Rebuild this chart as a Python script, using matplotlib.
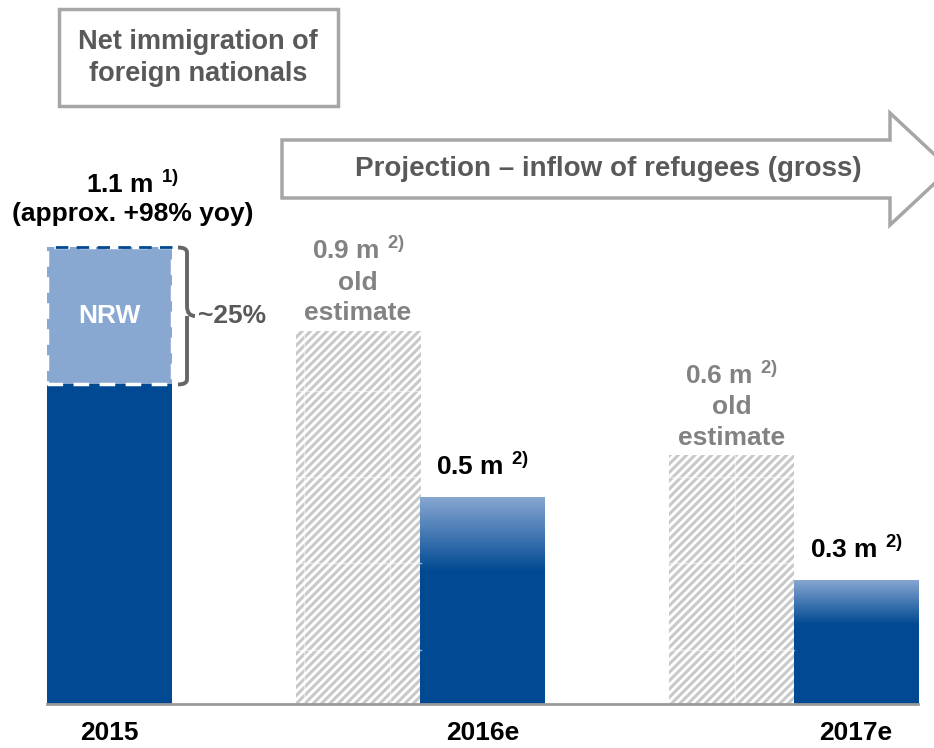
import numpy as np
import matplotlib.pyplot as plt
from matplotlib.patches import Rectangle, Polygon, PathPatch
from matplotlib.path import Path
from matplotlib.colors import LinearSegmentedColormap

plt.rcParams['font.family'] = ['Liberation Sans', 'DejaVu Sans']
plt.rcParams['mathtext.fontset'] = 'custom'
plt.rcParams['mathtext.rm'] = 'Liberation Sans:bold'
plt.rcParams['mathtext.bf'] = 'Liberation Sans:bold'
plt.rcParams['hatch.linewidth'] = 2.2

# Datos (millones de personas)
years = ['2015', '2016e', '2017e']
net_2015_rest = 0.77
net_2015_nrw = 0.33
net_2015_total = 1.1
old_estimate = [0.9, 0.6]
new_estimate = [0.5, 0.3]
old_labels = ['0.9 m $^{2)}$', '0.6 m $^{2)}$']
new_labels = ['0.5 m $^{2)}$', '0.3 m $^{2)}$']

NAVY = '#014a93'
LIGHT = '#88a8d2'
GREY_TXT = '#595959'
OLD_TXT = '#828282'
EDGE = '#a6a6a6'
FS = 19

# Posiciones de las barras (en pixeles de ancho)
W = 125
x_2015 = 109.5
x_old = [358, 731.5]
x_new = [482.5, 856]

fig = plt.figure(figsize=(9.34, 7.48), dpi=100)
ax = fig.add_axes([0, 0, 1, 1])
ax.axis('off')

def px(y):
    """Convierte un offset en pixeles a unidades del eje y"""
    return y / 415

# Barra 2015: parte fija + NRW
ax.bar(x_2015, net_2015_rest, W, color=NAVY, zorder=2)
ax.bar(x_2015, net_2015_nrw, W, bottom=net_2015_rest, color=LIGHT, zorder=2)
ax.bar(x_2015, net_2015_nrw, W, bottom=net_2015_rest, fill=False,
       edgecolor='white', linewidth=2.5, linestyle=(0, (4.5, 3)), zorder=3)
ax.plot([x_2015 - W / 2, x_2015 + W / 2], [net_2015_total] * 2, color=NAVY,
        lw=2, ls=(4.5, (4.5, 3)), zorder=4)
ax.text(x_2015, net_2015_rest + net_2015_nrw / 2, 'NRW', color='white',
        fontsize=FS, fontweight='bold', ha='center', va='center', zorder=5)

# Llave ~25%
y0, y1 = net_2015_rest, net_2015_total
ym = (y0 + y1) / 2
bx = 178
verts = [(bx, y1), (bx + 9, y1), (bx + 9, y1 - px(5)), (bx + 9, ym + px(10)),
         (bx + 9, ym), (bx + 17, ym),
         (bx + 9, ym), (bx + 9, ym - px(10)), (bx + 9, y0 + px(5)),
         (bx + 9, y0), (bx, y0)]
codes = [Path.MOVETO, Path.CURVE3, Path.CURVE3, Path.LINETO, Path.CURVE3,
         Path.CURVE3, Path.MOVETO, Path.CURVE3, Path.LINETO, Path.CURVE3,
         Path.CURVE3]
ax.add_patch(PathPatch(Path(verts, codes), fill=False, edgecolor='#666666',
                       lw=2.8, zorder=3))
ax.text(bx + 20, ym, '~25%', color=GREY_TXT, fontsize=FS, fontweight='bold',
        ha='left', va='center')

ax.text(x_2015 + 23, net_2015_total + px(63), '1.1 m $^{1)}$', fontsize=FS,
        fontweight='bold', ha='center', va='center')
ax.text(x_2015 + 23, net_2015_total + px(34), '(approx. +98% yoy)',
        fontsize=FS, fontweight='bold', ha='center', va='center')

# Estimaciones anteriores (rayado gris)
tile_x = [304, 390, 735]
tile_y = [px(704 - y) for y in (391, 477, 563, 650)]
for x, v, lab in zip(x_old, old_estimate, old_labels):
    ax.bar(x, v, W, color='white', edgecolor='#c9c9c9', linewidth=0,
           hatch='////', zorder=2)
    for ty in tile_y:
        if ty < v:
            ax.plot([x - W / 2, x + W / 2], [ty, ty], color='white', lw=1,
                    alpha=0.55, zorder=3)
    for tx in tile_x:
        if x - W / 2 < tx < x + W / 2:
            ax.plot([tx, tx], [0, v], color='white', lw=1, alpha=0.55,
                    zorder=3)
    ax.text(x, v + px(80), lab, color=OLD_TXT, fontsize=FS,
            fontweight='bold', ha='center', va='center')
    ax.text(x, v + px(48), 'old', color=OLD_TXT, fontsize=FS,
            fontweight='bold', ha='center', va='center')
    ax.text(x, v + px(17), 'estimate', color=OLD_TXT, fontsize=FS,
            fontweight='bold', ha='center', va='center')

# Nuevas proyecciones con degradado en la parte superior
grad_cmap = LinearSegmentedColormap.from_list('g', [NAVY, '#88a8d2'])
for x, v, lab in zip(x_new, new_estimate, new_labels):
    bar = ax.bar(x, v, W, color=NAVY, zorder=2)[0]
    grad = np.linspace(0, 1, 256).reshape(-1, 1)
    grad = np.clip((grad - 0.64) / 0.36, 0, 1)
    im = ax.imshow(grad, cmap=grad_cmap, aspect='auto', origin='lower',
                   extent=(x - W / 2, x + W / 2, 0, v), zorder=2.5)
    im.set_clip_path(bar)
    ax.text(x, v + px(30), lab, fontsize=FS, fontweight='bold',
            ha='center', va='center')

ax.set_xlim(0, 934)
ax.set_ylim(-44 / 415, 704 / 415)

# Linea base
ax.plot([47, 918], [0, 0], color='#9a9a9a', lw=2, zorder=4)

# Etiquetas de años
for x, lab in zip([x_2015] + x_new, years):
    ax.text(x, -px(29), lab, fontsize=FS, fontweight='bold', ha='center',
            va='center')

# Recuadro titulo
ax.add_patch(Rectangle((59, px(704 - 106)), 279, px(97), fill=False,
                       edgecolor=EDGE, lw=2.5, zorder=3))
ax.text(198, px(704 - 42), 'Net immigration of', color=GREY_TXT,
        fontsize=19.5, fontweight='bold', ha='center', va='center')
ax.text(198, px(704 - 74), 'foreign nationals', color=GREY_TXT,
        fontsize=19.5, fontweight='bold', ha='center', va='center')

# Flecha de proyeccion
arrow = [(282, 140), (890, 140), (890, 113), (950, 169), (890, 225),
         (890, 198), (282, 198)]
arrow = [(ax_x, px(704 - ay)) for ax_x, ay in arrow]
ax.add_patch(Polygon(arrow, closed=True, facecolor='white', edgecolor=EDGE,
                     lw=2.5, zorder=3, clip_on=False))
ax.text(608, px(704 - 169), 'Projection – inflow of refugees (gross)',
        color=GREY_TXT, fontsize=20, fontweight='bold', ha='center',
        va='center', zorder=4)

fig.savefig('out.png', dpi=100)
